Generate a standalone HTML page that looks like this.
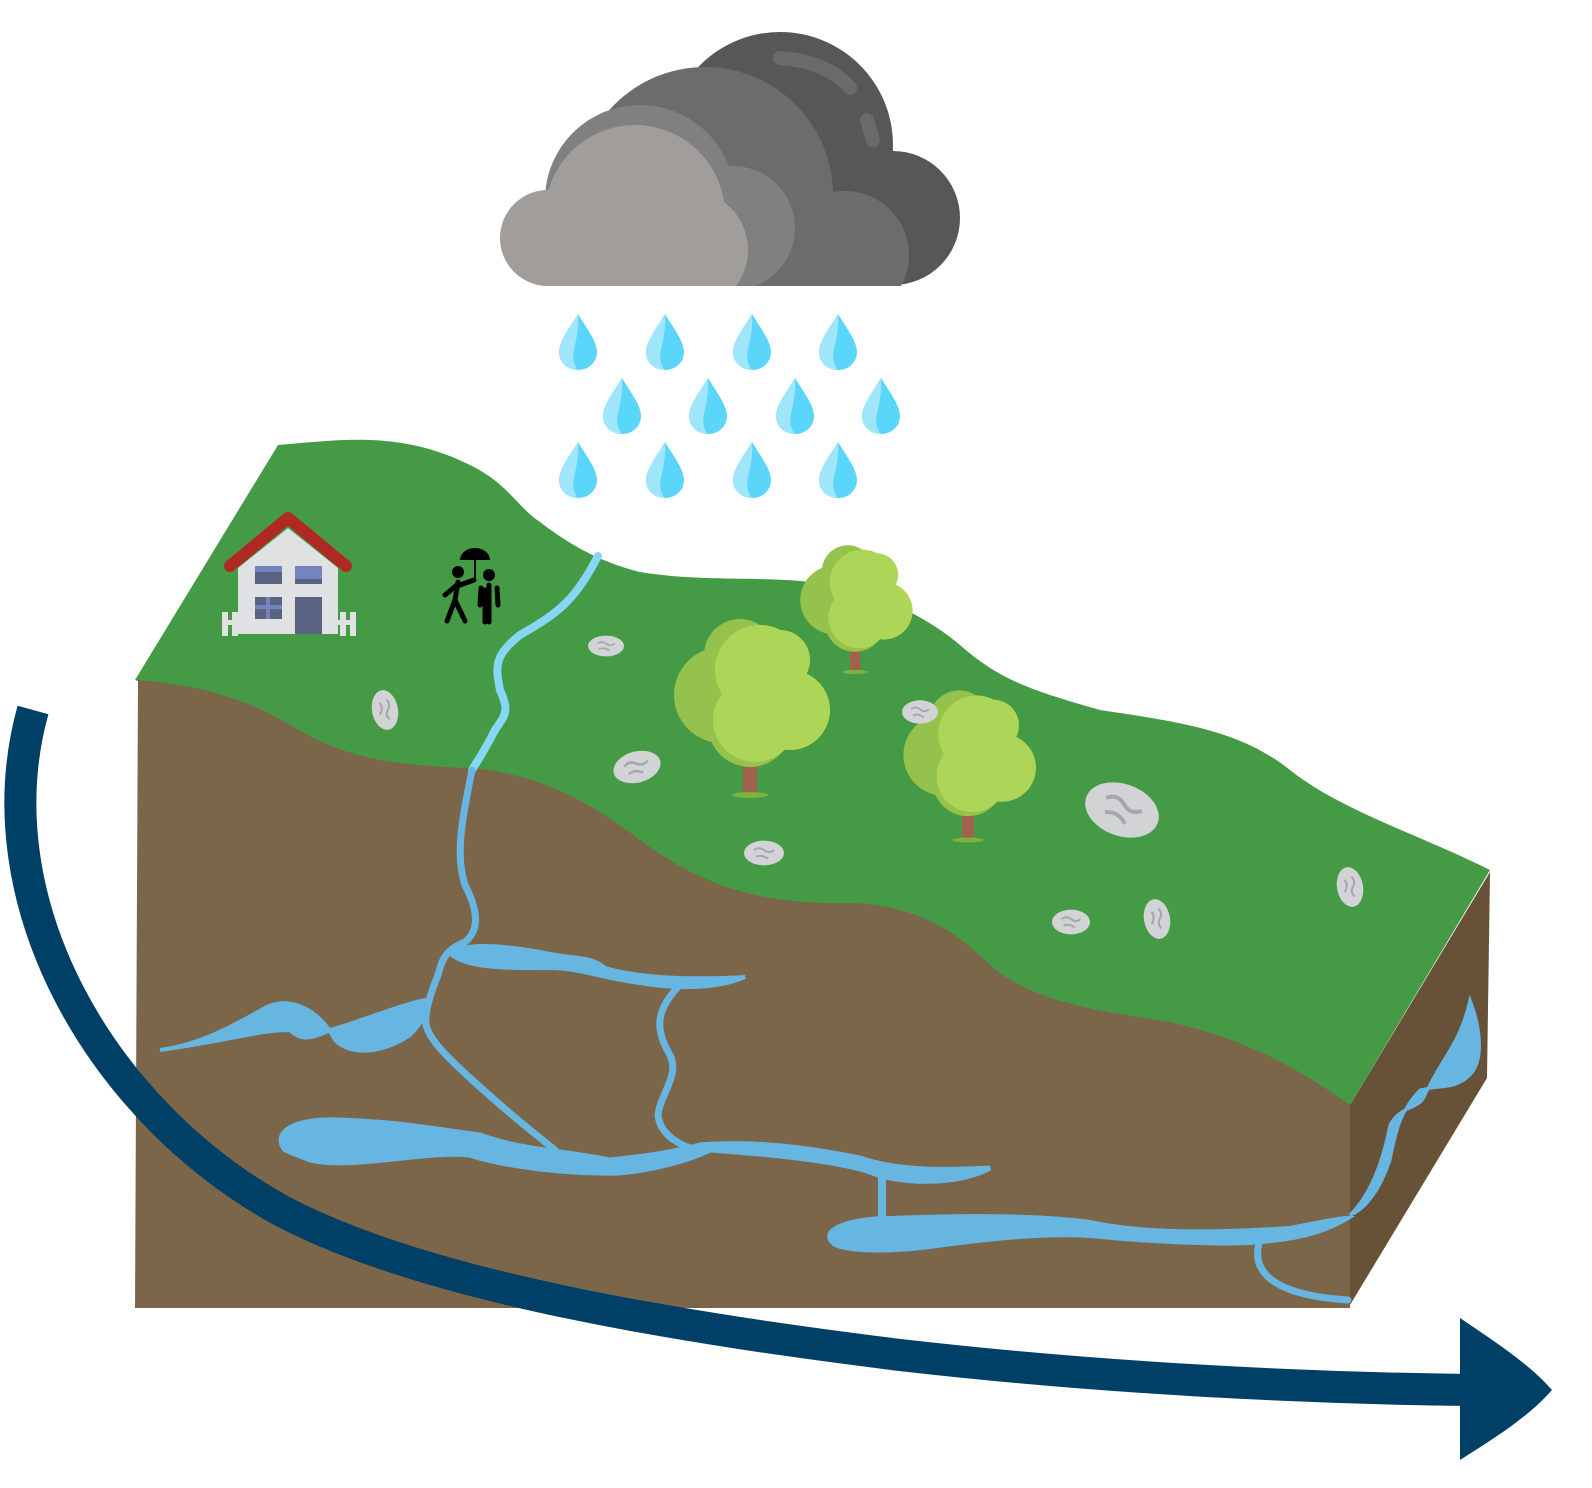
<!DOCTYPE html>
<html><head><meta charset="utf-8"><title>Water cycle illustration</title>
<style>html,body{margin:0;padding:0;background:#fff}svg{display:block}</style></head>
<body>
<svg width="1592" height="1488" viewBox="0 0 1592 1488" xmlns="http://www.w3.org/2000/svg">
<defs>
<clipPath id="cloudclip"><rect x="0" y="0" width="1592" height="286"/></clipPath>
<g id="drop"><path d="M0,-26 C10,-10 19,2 19,12 C19,23 10,30 0,30 C-10,30 -19,23 -19,12 C-19,2 -10,-10 0,-26Z" fill="#5bd6fb"/><path d="M0,-26 C-10,-10 -19,2 -19,12 C-19,23 -10,30 0,30 C-4,26 -6,18 -4,10 C-2,0 1,-10 0,-26Z" fill="#9fe6fb"/></g>
<g id="rock"><ellipse cx="0" cy="0" rx="20" ry="13" fill="#d2d3d5"/><path d="M-10,-3 q5,-4 10,0 q5,4 10,0 M-8,4 q6,-3 12,2" stroke="#a5a7aa" stroke-width="2" fill="none"/></g>
<g id="tree"><rect x="-7" y="20" width="14" height="80" fill="#a2614c"/><ellipse cx="0" cy="100" rx="18" ry="3" fill="#7bb241"/><circle cx="-28" cy="0" r="48" fill="#95c24d"/><circle cx="-10" cy="-40" r="36" fill="#95c24d"/><circle cx="0" cy="30" r="42" fill="#95c24d"/><circle cx="10" cy="-25" r="45" fill="#add658"/><circle cx="40" cy="15" r="40" fill="#add658"/><circle cx="5" cy="25" r="42" fill="#add658"/><circle cx="30" cy="-35" r="30" fill="#add658"/></g>
</defs>

<!-- cloud -->
<g clip-path="url(#cloudclip)">
<circle cx="780" cy="145" r="113" fill="#575757"/>
<circle cx="893" cy="218" r="67" fill="#575757"/>
<rect x="780" y="150" width="113" height="136" fill="#575757"/>
<circle cx="705" cy="195" r="128" fill="#6c6c6c"/>
<circle cx="845" cy="255" r="64" fill="#6c6c6c"/>
<rect x="705" y="200" width="140" height="86" fill="#6c6c6c"/>
<circle cx="640" cy="200" r="95" fill="#808080"/>
<circle cx="733" cy="228" r="62" fill="#808080"/>
<rect x="640" y="200" width="93" height="86" fill="#808080"/>
<circle cx="635" cy="215" r="90" fill="#a09d9b"/>
<circle cx="688" cy="250" r="60" fill="#a09d9b"/>
<circle cx="548" cy="238" r="48" fill="#a09d9b"/>
<rect x="548" y="200" width="140" height="86" fill="#a09d9b"/>
<path d="M780,58 C810,60 835,70 850,88" stroke="#6a6a6a" stroke-width="14" stroke-linecap="round" fill="none"/>
<path d="M867,120 L873,140" stroke="#6a6a6a" stroke-width="14" stroke-linecap="round"/>
</g>
<g>
<use href="#drop" x="578" y="340"/><use href="#drop" x="665" y="340"/><use href="#drop" x="752" y="340"/><use href="#drop" x="838" y="340"/>
<use href="#drop" x="622" y="404"/><use href="#drop" x="708" y="404"/><use href="#drop" x="795" y="404"/><use href="#drop" x="881" y="404"/>
<use href="#drop" x="578" y="468"/><use href="#drop" x="665" y="468"/><use href="#drop" x="752" y="468"/><use href="#drop" x="838" y="468"/>
</g>

<!-- land -->
<path fill="#459a45" d="M278,445 C340,440 400,430 470,465 C510,485 515,505 540,522 C570,545 600,562 640,572 C700,582 760,576 810,582 C880,590 930,620 960,645 C1000,680 1030,690 1100,710 C1180,722 1240,730 1290,770 C1340,810 1420,835 1490,870 L1350,1105 L135,680 Z"/>
<path fill="#7c664a" d="M138,680 C200,685 250,700 290,725 C340,755 380,765 470,768 C550,775 600,810 640,840 C700,885 760,905 850,903 C920,905 960,935 990,965 C1030,1000 1090,1010 1170,1022 C1250,1040 1300,1070 1350,1105 L1350,1308 L135,1308 Z"/>
<path fill="#675238" d="M1350,1105 L1490,872 L1487,1078 L1350,1305 Z"/>

<!-- water -->
<g fill="#67b6e2" stroke="#67b6e2" stroke-linecap="round">
<path d="M598,556 C575,600 560,612 520,635 C495,655 495,665 500,690 C510,712 505,715 495,730 C485,750 478,760 472,770" stroke="#86d7f6" stroke-width="8" fill="none"/>
<path d="M472,770 C462,820 455,855 465,885 C478,910 480,930 465,942 C445,950 442,960 438,975 C430,995 425,1010 426,1025 C430,1040 445,1055 470,1078 C505,1110 530,1130 555,1150" stroke-width="7" fill="none"/>
<path d="M160,1050 C200,1045 235,1025 265,1008 C290,995 320,1010 335,1040 C350,1055 380,1055 410,1035 C425,1020 430,1005 425,1000 C400,1005 350,1025 330,1030 C310,1040 300,1040 290,1030 C260,1030 230,1040 160,1050Z" stroke-width="4"/>
<path d="M452,955 C460,942 500,945 540,952 C575,960 590,955 605,968 C640,978 690,980 745,977 C720,988 680,990 640,983 C600,978 580,968 550,968 C520,968 470,970 452,955Z" stroke-width="4"/>
<path d="M680,985 C655,1010 655,1030 670,1055 C680,1075 660,1095 658,1115 C660,1135 680,1145 695,1150" stroke-width="7" fill="none"/>
<path d="M285,1150 C270,1130 300,1118 340,1120 C400,1122 440,1130 480,1135 C520,1150 560,1150 610,1160 C660,1155 680,1150 700,1145 C760,1140 820,1150 860,1158 C900,1172 950,1170 990,1168 C960,1185 900,1185 870,1172 C840,1162 780,1155 710,1150 C690,1160 640,1175 600,1173 C540,1172 490,1162 470,1155 C430,1150 350,1170 310,1160 Z" stroke-width="5"/>
<path d="M882,1178 L882,1222" stroke-width="8" fill="none"/>
<path d="M835,1245 C815,1230 850,1218 890,1218 C960,1215 1040,1215 1090,1222 C1150,1235 1230,1232 1290,1228 C1320,1222 1340,1218 1348,1218 C1320,1235 1290,1240 1250,1243 C1200,1245 1130,1240 1090,1236 C1040,1233 980,1240 930,1247 C890,1252 850,1252 835,1245Z" stroke-width="4"/>
<path d="M1260,1240 C1250,1270 1270,1295 1348,1300" stroke-width="7" fill="none"/>
<path d="M1350,1215 C1375,1190 1385,1150 1390,1125 C1400,1105 1420,1110 1425,1095 C1440,1060 1460,1045 1470,1000 C1480,1025 1485,1060 1470,1075 C1455,1090 1440,1085 1420,1090 C1400,1110 1395,1135 1390,1160 C1380,1190 1365,1210 1350,1215Z" stroke-width="3"/>
</g>

<!-- house -->
<g>
<rect x="222" y="612" width="6" height="24" fill="#e0e1e3"/><rect x="232" y="612" width="6" height="24" fill="#e0e1e3"/><rect x="222" y="620" width="22" height="5" fill="#e0e1e3"/>
<rect x="340" y="612" width="6" height="24" fill="#e0e1e3"/><rect x="350" y="612" width="6" height="24" fill="#e0e1e3"/><rect x="334" y="620" width="22" height="5" fill="#e0e1e3"/>
<path d="M238,568 L288,528 L338,568 L338,634 L238,634 Z" fill="#e0e1e3"/>
<path d="M230,566 L288,518 L346,566" stroke="#b02822" stroke-width="12" stroke-linecap="round" stroke-linejoin="round" fill="none"/>
<rect x="255" y="566" width="27" height="18" fill="#5a6282"/><rect x="255" y="566" width="27" height="6" fill="#7584c0"/>
<rect x="295" y="566" width="27" height="18" fill="#7584c0"/><rect x="295" y="579" width="27" height="5" fill="#5a6282"/>
<rect x="255" y="597" width="27" height="22" fill="#5a6282"/><rect x="266" y="597" width="4" height="22" fill="#7584c0"/><rect x="255" y="605" width="27" height="4" fill="#7584c0"/>
<rect x="295" y="597" width="27" height="37" fill="#5a6282"/>
</g>
<!-- people -->
<g fill="#000" stroke="#000" stroke-linecap="round">
<path d="M460,560 A15,12 0 0 1 490,560 Z" stroke="none"/>
<line x1="475" y1="560" x2="475" y2="580" stroke-width="2"/>
<circle cx="458" cy="572" r="6" stroke="none"/>
<circle cx="489" cy="575" r="6" stroke="none"/>
<path d="M458,582 L455,600 L447,621 M455,600 L465,621 M458,584 L445,595 M460,585 L474,580" stroke-width="5" fill="none"/>
<path d="M489,585 L489,622 M485,590 L485,622 M481,588 L480,605 M497,588 L498,605" stroke-width="5" fill="none"/>
</g>

<!-- trees -->
<use href="#tree" x="750" y="695"/>
<use href="#tree" transform="translate(855,600) scale(0.72)"/>
<use href="#tree" transform="translate(968,755) scale(0.85)"/>

<!-- rocks -->
<g>
<use href="#rock" transform="translate(385,710) rotate(80) scale(1)"/>
<use href="#rock" transform="translate(606,646) scale(0.9 0.8)"/>
<use href="#rock" transform="translate(637,767) rotate(-15) scale(1.2 1.2)"/>
<use href="#rock" transform="translate(764,853) scale(1 0.95)"/>
<use href="#rock" transform="translate(920,712) scale(0.9)"/>
<use href="#rock" transform="translate(1122,810) rotate(20) scale(1.9 2)"/>
<use href="#rock" transform="translate(1071,922) scale(0.95)"/>
<use href="#rock" transform="translate(1157,919) rotate(80) scale(1)"/>
<use href="#rock" transform="translate(1350,887) rotate(80) scale(1)"/>
</g>

<!-- arrow -->
<path d="M33,710 C-20,900 100,1110 280,1210 C430,1290 700,1330 900,1355 C1100,1378 1300,1388 1470,1390" stroke="#003f66" stroke-width="32" fill="none"/>
<path d="M1460,1318 C1500,1345 1530,1365 1552,1390 C1530,1415 1500,1435 1460,1460 Z" fill="#003f66"/>
</svg>
</body></html>
